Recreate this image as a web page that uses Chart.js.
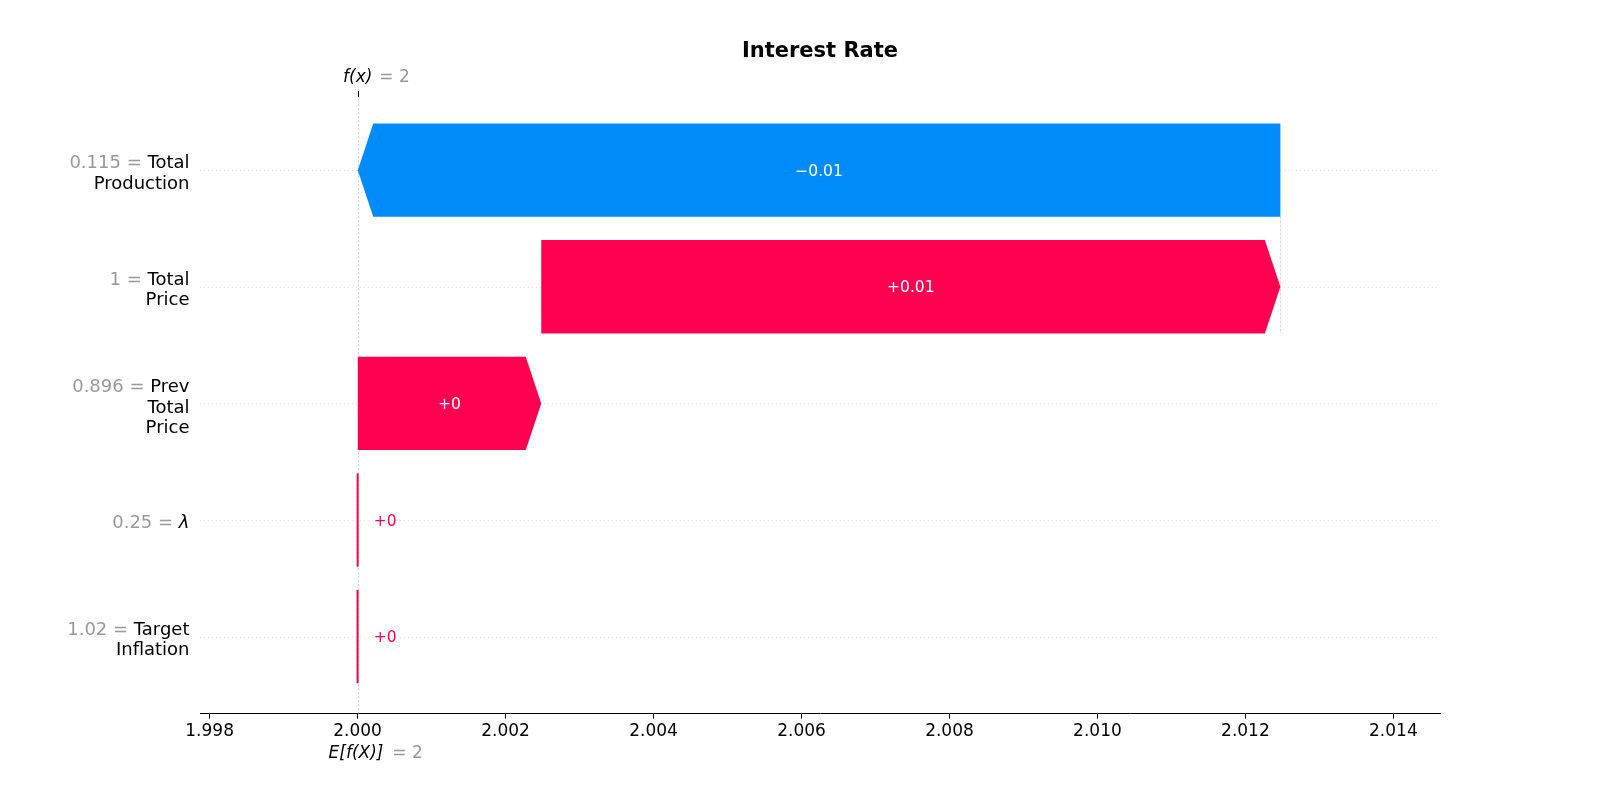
<!DOCTYPE html>
<html>
<head>
<meta charset="utf-8">
<title>Interest Rate</title>
<script src="https://cdn.jsdelivr.net/npm/chart.js@4.4.1/dist/chart.umd.min.js"></script>
<style>
    body { margin: 0; background: #fff; }
    #wrap { width: 1600px; height: 800px; }
</style>
</head>
<body>
<div id="wrap"><canvas id="graficaShap"></canvas></div>
<script>
// ================= DATOS =================
const titulo = 'Interest Rate';
// de arriba hacia abajo
const features      = ['Total\nProduction', 'Total\nPrice', 'Prev\nTotal\nPrice', 'λ', 'Target\nInflation'];
const featureValues = ['0.115', '1', '0.896', '0.25', '1.02'];
const shapValues    = [-0.01247, 0.00999, 0.00248, 0.0000015, 0.0000008];
const shapLabels    = ['\u22120.01', '+0.01', '+0', '+0', '+0'];
const baseValue = 2.0;
const baseLabel = '2';
const fxLabel   = '2';
const xTicks = [1.998, 2.000, 2.002, 2.004, 2.006, 2.008, 2.010, 2.012, 2.014];
const xMin = 1.99787, xMax = 2.01463;

const AZUL = '#008bfb';
const ROJO = '#ff0051';
const GRIS = '#999999';
const FONT = 'DejaVu Sans';

// posiciones de fila (4 arriba ... 0 abajo) y acumulados desde la base
const filas = features.map((f, i) => features.length - 1 - i);
const inicio = [], fin = [];
let acum = baseValue;
for (let i = features.length - 1; i >= 0; i--) {
    inicio[i] = acum;
    acum += shapValues[i];
    fin[i] = acum;
}
const fx = acum;

// ================= PLUGIN WATERFALL =================
const waterfall = {
    id: 'waterfall',
    beforeDatasetsDraw(chart) {
        const { ctx, chartArea: a, scales: { x, y } } = chart;
        ctx.save();
        // lineas horizontales punteadas
        ctx.strokeStyle = '#d4d4d4';
        ctx.lineWidth = 0.7;
        ctx.setLineDash([1, 3]);
        filas.forEach(r => {
            const py = Math.round(y.getPixelForValue(r)) + 0.5;
            ctx.beginPath(); ctx.moveTo(a.left, py); ctx.lineTo(a.right, py); ctx.stroke();
        });
        // linea vertical base / f(x)
        ctx.strokeStyle = '#c4c4c4';
        ctx.lineWidth = 0.7;
        ctx.setLineDash([2.5, 1.5]);
        const bx = Math.round(x.getPixelForValue(baseValue)) + 0.5;
        ctx.beginPath(); ctx.moveTo(bx, a.top); ctx.lineTo(bx, a.bottom); ctx.stroke();
        // conector: fin de la barra mas larga hacia la de arriba
        const cx = Math.round(x.getPixelForValue(inicio[0])) + 0.5;
        ctx.beginPath();
        ctx.moveTo(cx, y.getPixelForValue(filas[0] - 0.4));
        ctx.lineTo(cx, y.getPixelForValue(filas[1] - 0.4));
        ctx.stroke();
        ctx.restore();
    },
    afterDatasetsDraw(chart) {
        const { ctx, chartArea: a, scales: { x, y } } = chart;
        ctx.save();
        const hl = 15.5;
        features.forEach((f, i) => {
            const x0 = x.getPixelForValue(inicio[i]);
            const x1 = x.getPixelForValue(fin[i]);
            const yc = y.getPixelForValue(filas[i]);
            const h = yc - y.getPixelForValue(filas[i] + 0.4);
            const color = shapValues[i] < 0 ? AZUL : ROJO;
            const dir = x1 >= x0 ? 1 : -1;
            const w = Math.abs(x1 - x0);
            ctx.fillStyle = color;
            if (w < 2) {
                ctx.fillRect(x0 - 1, yc - h, 2, 2 * h);
            } else {
                const head = Math.min(hl, w);
                ctx.beginPath();
                ctx.moveTo(x0, yc - h);
                ctx.lineTo(x1 - dir * head, yc - h);
                ctx.lineTo(x1, yc);
                ctx.lineTo(x1 - dir * head, yc + h);
                ctx.lineTo(x0, yc + h);
                ctx.closePath();
                ctx.fill();
            }
            // texto del valor
            ctx.font = `15.5px "${FONT}"`;
            const tw = ctx.measureText(shapLabels[i]).width;
            if (tw + 20 < w) {
                ctx.fillStyle = '#fff';
                ctx.textAlign = 'center';
                ctx.fillText(shapLabels[i], (x0 + x1) / 2, yc + 5.5);
            } else {
                ctx.fillStyle = color;
                ctx.textAlign = dir > 0 ? 'left' : 'right';
                ctx.fillText(shapLabels[i], x1 + dir * 16, yc + 5.5);
            }

            // etiqueta del eje y
            const lineas = f.split('\n');
            const xr = a.left - 10.5;
            let by = yc + 7.5 - (lineas.length - 1) * 9.3;
            ctx.textAlign = 'right';
            lineas.forEach((l, k) => {
                ctx.font = (l === 'λ' ? 'italic ' : '') + `18px "${FONT}"`;
                ctx.fillStyle = '#000';
                ctx.fillText(l, xr, by);
                if (k === 0) {
                    const lw = ctx.measureText(l).width;
                    ctx.font = `18px "${FONT}"`;
                    ctx.fillStyle = GRIS;
                    ctx.fillText(featureValues[i] + ' = ', xr - lw, by);
                }
                by += 20.4;
            });
        });

        // f(x) arriba
        const fxp = x.getPixelForValue(fx);
        ctx.strokeStyle = '#000';
        ctx.lineWidth = 1;
        ctx.setLineDash([]);
        ctx.beginPath(); ctx.moveTo(Math.round(fxp) + 0.5, a.top - 1); ctx.lineTo(Math.round(fxp) + 0.5, a.top + 5); ctx.stroke();
        ctx.font = `italic 17px "${FONT}"`;
        ctx.fillStyle = '#000';
        ctx.textAlign = 'center';
        ctx.fillText('f(x)', fxp, a.top - 10);
        ctx.font = `17px "${FONT}"`;
        ctx.fillStyle = GRIS;
        ctx.textAlign = 'left';
        ctx.fillText('= ' + fxLabel, fxp + 21.5, a.top - 10);

        // E[f(X)] abajo
        const bp = x.getPixelForValue(baseValue);
        ctx.font = `italic 17px "${FONT}"`;
        ctx.fillStyle = '#000';
        ctx.fillText('E[f(X)]', bp - 29, a.bottom + 44);
        ctx.font = `17px "${FONT}"`;
        ctx.fillStyle = GRIS;
        ctx.fillText('= ' + baseLabel, bp + 34.7, a.bottom + 44);
        ctx.restore();
    }
};

// ================= GRAFICA =================
new Chart(document.getElementById('graficaShap'), {
    type: 'scatter',
    data: {
        datasets: [{
            data: fin.map((v, i) => ({ x: v, y: filas[i] })),
            pointRadius: 0
        }]
    },
    options: {
        responsive: true,
        maintainAspectRatio: false,
        animation: false,
        layout: { padding: { left: 200, right: 160, top: 0, bottom: 55 } },
        plugins: {
            legend: { display: false },
            tooltip: { enabled: false },
            title: {
                display: true,
                text: titulo,
                color: '#000',
                font: { family: FONT, size: 21, weight: 'bold' },
                padding: { top: 39, bottom: 27.8 }
            }
        },
        scales: {
            x: {
                type: 'linear',
                min: xMin,
                max: xMax,
                afterBuildTicks: s => { s.ticks = xTicks.map(v => ({ value: v })); },
                ticks: {
                    callback: v => v.toFixed(3),
                    color: '#000',
                    font: { family: FONT, size: 17 },
                    padding: 3,
                    maxRotation: 0,
                    autoSkip: false
                },
                grid: { drawOnChartArea: false, tickLength: 5, color: '#000' },
                border: { display: true, color: '#000', width: 1 }
            },
            y: { type: 'linear', display: false, min: -0.66, max: 4.67 }
        }
    },
    plugins: [waterfall]
});
</script>
</body>
</html>
